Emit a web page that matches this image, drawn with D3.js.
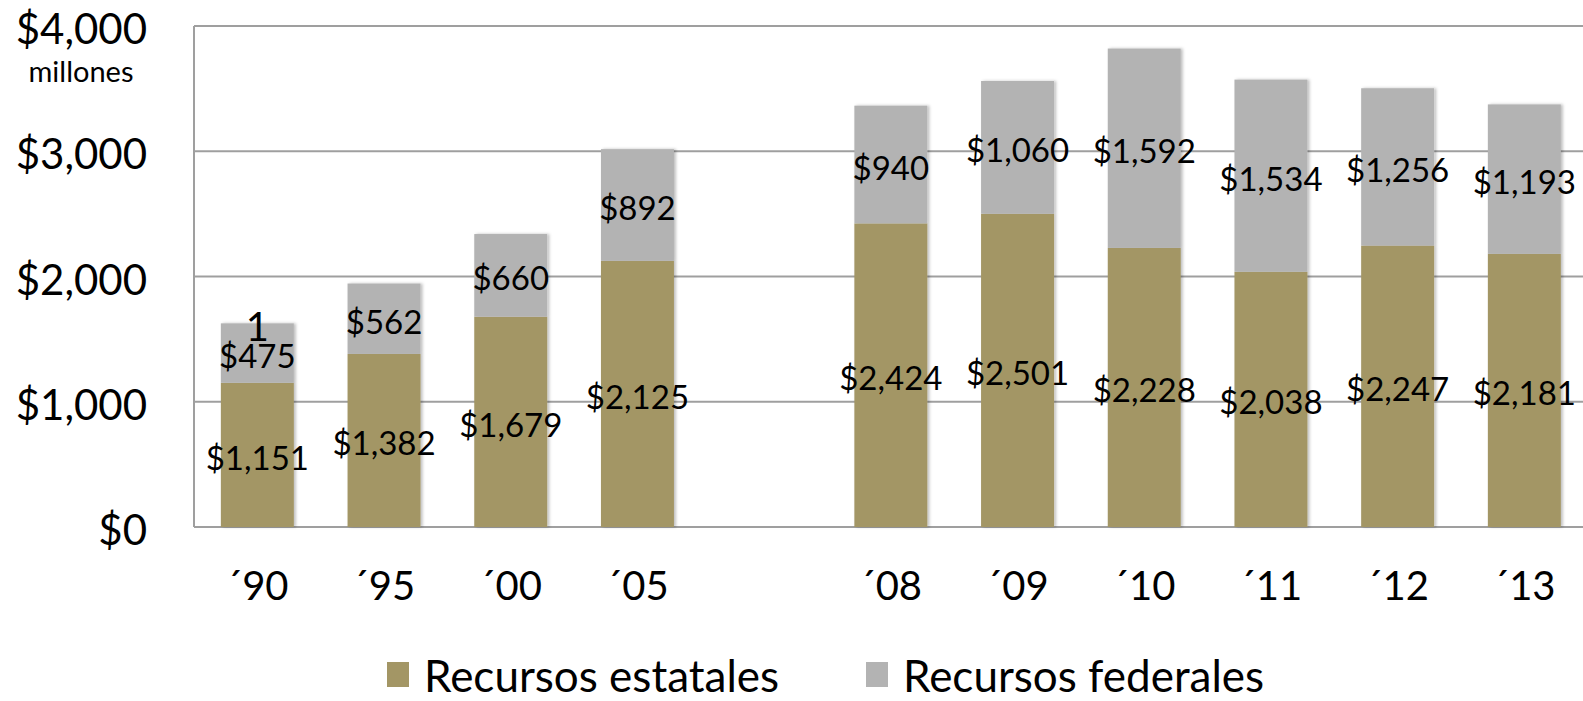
<!DOCTYPE html>
<html>
<head>
<meta charset="utf-8">
<script src="https://cdn.jsdelivr.net/npm/d3@7"></script>
<style>
  body { margin: 0; background: #fff; }
  text { font-family: Lato, "Open Sans", sans-serif; fill: #000; }
</style>
</head>
<body>
<div id="viz"></div>
<script>
(function() {

    var width = 1583;
    var height = 701;

    // the empty slot keeps the gap between ´05 and ´08
    var slots = ["´90", "´95", "´00", "´05", "gap", "´08", "´09", "´10", "´11", "´12", "´13"];
    var years = ["´90", "´95", "´00", "´05", "´08", "´09", "´10", "´11", "´12", "´13"];
    var estatales = [1151, 1382, 1679, 2125, 2424, 2501, 2228, 2038, 2247, 2181];
    var federales = [475, 562, 660, 892, 940, 1060, 1592, 1534, 1256, 1193];
    var yTicks = [0, 1000, 2000, 3000, 4000];
    var seriesNames = ["Recursos estatales", "Recursos federales"];
    var colors = ["#a39665", "#b3b3b3"];

    var svg = d3.select("#viz")
        .append("svg")
        .attr("width", width)
        .attr("height", height);

    var defs = svg.append("defs");
    defs.append("filter")
        .attr("id", "shadow")
        .attr("x", "-20%").attr("width", "140%")
        .append("feDropShadow")
        .attr("dx", 2).attr("dy", 0)
        .attr("stdDeviation", 1.5)
        .attr("flood-color", "#000")
        .attr("flood-opacity", 0.25);

    var left = 194, top = 26, bottom = 527;

    var x = d3.scaleBand()
        .domain(slots)
        .range([left, left + 11 * 126.7])
        .paddingInner(0.424)
        .paddingOuter(0.212);

    var y = d3.scaleLinear().domain([0, 4000]).range([bottom, top]);

    var fmt = function(v) { return "$" + d3.format(",")(v); };

    //Gridlines
    svg.selectAll(".grid")
        .data(yTicks)
        .enter().append("line")
        .attr("x1", left).attr("x2", width)
        .attr("y1", function(d) { return y(d); })
        .attr("y2", function(d) { return y(d); })
        .attr("stroke", "#9f9f9f")
        .attr("stroke-width", 2);

    svg.append("line")
        .attr("x1", left).attr("x2", left)
        .attr("y1", top).attr("y2", bottom)
        .attr("stroke", "#9f9f9f")
        .attr("stroke-width", 2);

    //Y tick labels
    svg.selectAll(".ytick")
        .data(yTicks)
        .enter().append("text")
        .attr("x", 147)
        .attr("y", function(d) { return y(d) + 18; })
        .attr("text-anchor", "end")
        .attr("font-size", "42px")
        .text(fmt);

    svg.append("text")
        .attr("x", 81).attr("y", 82)
        .attr("text-anchor", "middle")
        .attr("font-size", "29px")
        .text("millones");

    //Stacked bars
    var rows = years.map(function(yr, i) {
        return { year: yr, est: estatales[i], fed: federales[i] };
    });

    var bars = svg.selectAll(".bar")
        .data(rows)
        .enter().append("g")
        .attr("class", "bar")
        .attr("filter", "url(#shadow)");

    bars.append("rect")
        .attr("x", function(d) { return x(d.year); })
        .attr("width", x.bandwidth())
        .attr("y", function(d) { return y(d.est); })
        .attr("height", function(d) { return y(0) - y(d.est); })
        .attr("fill", colors[0]);

    bars.append("rect")
        .attr("x", function(d) { return x(d.year); })
        .attr("width", x.bandwidth())
        .attr("y", function(d) { return y(d.est + d.fed); })
        .attr("height", function(d) { return y(d.est) - y(d.est + d.fed); })
        .attr("fill", colors[1]);

    //Value labels
    var cx = function(d) { return x(d.year) + x.bandwidth() / 2; };

    svg.selectAll(".lab-est")
        .data(rows)
        .enter().append("text")
        .attr("x", cx)
        .attr("y", function(d) { return y(d.est / 2) + 15; })
        .attr("text-anchor", "middle")
        .attr("font-size", "33px")
        .text(function(d) { return fmt(d.est); });

    svg.selectAll(".lab-fed")
        .data(rows)
        .enter().append("text")
        .attr("x", cx)
        .attr("y", function(d) { return y(d.est + d.fed / 2) + 15; })
        .attr("text-anchor", "middle")
        .attr("font-size", "33px")
        .text(function(d) { return fmt(d.fed); });

    // stray "1" above the first bar
    svg.append("text")
        .attr("x", cx(rows[0]))
        .attr("y", 341)
        .attr("text-anchor", "middle")
        .attr("font-size", "40px")
        .text("1");

    //X labels
    svg.selectAll(".xlab")
        .data(years)
        .enter().append("text")
        .attr("x", function(d) { return x(d) + x.bandwidth() / 2; })
        .attr("y", 600)
        .attr("text-anchor", "middle")
        .attr("font-size", "40px")
        .text(function(d) { return d; });

    //Legend
    var legendX = [387, 866];
    var legend = svg.selectAll(".legend")
        .data(seriesNames)
        .enter().append("g")
        .attr("transform", function(d, i) { return "translate(" + legendX[i] + ",0)"; });

    legend.append("rect")
        .attr("x", 0).attr("y", 662)
        .attr("width", 22).attr("height", 25)
        .attr("fill", function(d, i) { return colors[i]; });

    legend.append("text")
        .attr("x", 37).attr("y", 692)
        .attr("font-size", "44px")
        .text(function(d) { return d; });

})();
</script>
</body>
</html>
